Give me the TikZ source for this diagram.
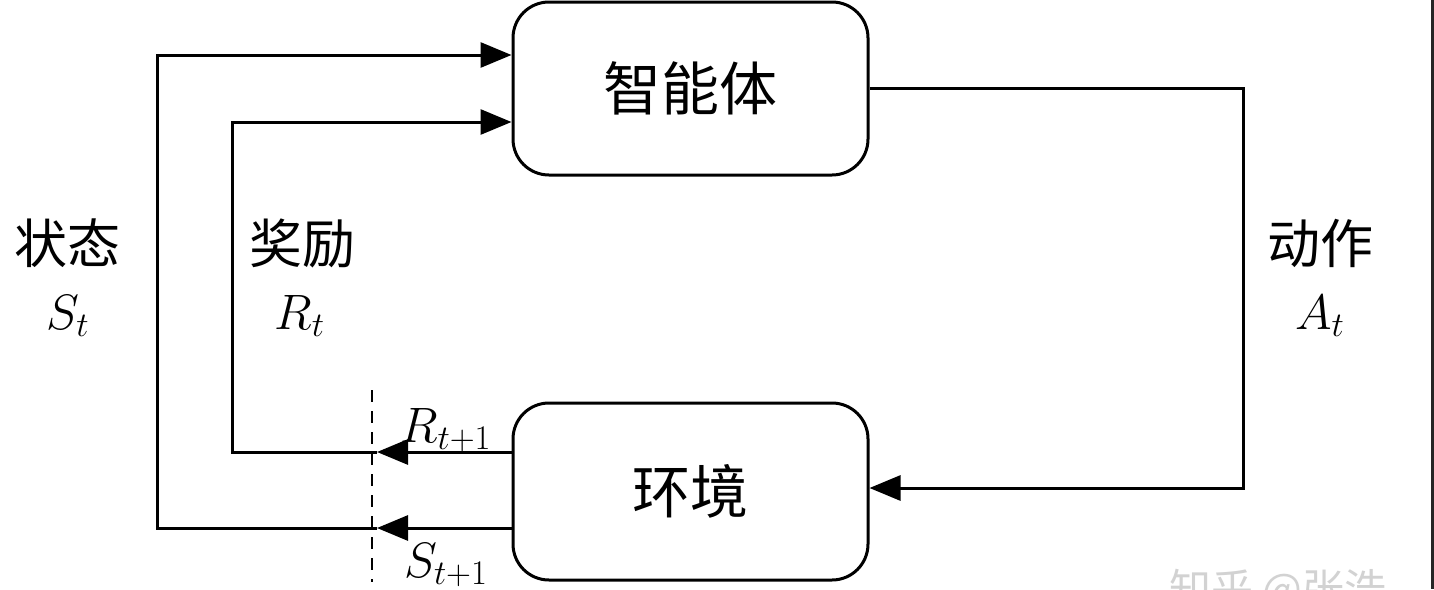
\documentclass[tikz,border=0pt]{standalone}
\usepackage{fontspec}
\newfontfamily\cjk{Noto Sans CJK SC}
\usetikzlibrary{arrows.meta}
\begin{document}
\begin{tikzpicture}[x=0.5pt,y=-0.5pt,line width=1.5pt,
  tip/.style={-{Triangle[length=15.5pt,width=12.5pt]}},
  box/.style={draw,rounded corners=18pt,minimum width=177.5pt,inner sep=0pt,font=\fontsize{29pt}{32pt}\cjk},
  cjklab/.style={font=\fontsize{26.5pt}{30pt}\cjk,inner sep=0pt},
  mathlab/.style={font=\fontsize{23pt}{27pt}\selectfont,inner sep=0pt}]
\useasboundingbox (0,0) rectangle (1434,589);
\fill[white] (0,0) rectangle (1434,589);
% boxes
\node[box,minimum height=86.5pt] (agent) at (690.5,88.5) {智能体};
\node[box,minimum height=88.5pt] (env) at (690.5,491.5) {环境};
% helper coordinates
\coordinate (sL) at (157,55);
\coordinate (rL) at (232,122);
\coordinate (sT) at (377,528);
\coordinate (rT) at (377,452);
\coordinate (aR) at (1243,88);
% state
\draw[tip] (env.west |- sT) -- (sT);
\draw[tip] (sT) -| (sL) -- (agent.west |- sL);
% reward
\draw[tip] (env.west |- rT) -- (rT);
\draw[tip] (rT) -| (rL) -- (agent.west |- rL);
% action
\coordinate (aE) at (env.east |- 0,488);
\draw[tip] (agent.east |- aR) -- (aR) |- (aE);
% dashed separator
\coordinate (dTop) at (372,390);
\coordinate (dBot) at (372,582);
\draw[dash pattern=on 6pt off 4.5pt,line width=1.4pt] (dTop) -- (dBot);
% labels
\node[cjklab] (lstate) at (67,243) {状态};
\node[mathlab] (mst) at (68,316) {$S_t$};
\node[cjklab] (lrew) at (302,243) {奖励};
\node[mathlab] (mrt) at (300,316) {$R_t$};
\node[cjklab] (lact) at (1320,243) {动作};
\node[mathlab] (mat) at (1320,316) {$A_t$};
\node[mathlab] (mrt1) at (446,430) {$R_{t+1}$};
\node[mathlab] (mst1) at (446,565) {$S_{t+1}$};
% watermark (clipped, as in the reference)
\begin{scope}
\clip (0,0) rectangle (1434,589);
\node[anchor=north,text=gray!35,font=\fontsize{21pt}{24pt}\cjk,inner sep=0pt] (wm) at (1278,568) {知乎 @张浩};
\end{scope}
\fill[black!85] (1431,0) rectangle (1434,589);
\end{tikzpicture}
\end{document}
